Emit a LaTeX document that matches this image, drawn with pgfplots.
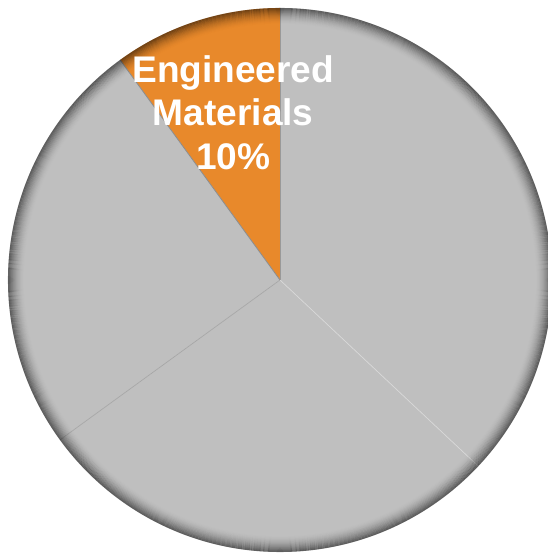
\documentclass[border=0pt]{standalone}
\usepackage{pgfplots}
\pgfplotsset{compat=1.18}
\usepackage{fontspec}
\setmainfont{Liberation Sans}
\definecolor{pieorange}{HTML}{E8892B}
\definecolor{piegray}{HTML}{BFBFBF}
\begin{document}
\begin{tikzpicture}
\begin{axis}[
  hide axis, scale only axis,
  width=411pt, height=414.75pt,
  xmin=-1.0294, xmax=0.9853, ymin=-1.0037, ymax=1.0294,
]
% shares (percent), counter-clockwise from 12 o'clock: 10, 25, 28, 37
% Engineered Materials 10%
\addplot[draw=none, fill=pieorange, domain=90:90+3.6*10, samples=80]
  ({cos(x)},{sin(x)}) -- (axis cs:0,0) -- cycle;
% 25%
\addplot[draw=none, fill=piegray, domain=126:126+3.6*25, samples=120]
  ({cos(x)},{sin(x)}) -- (axis cs:0,0) -- cycle;
% 28%
\addplot[draw=none, fill=piegray, domain=216:216+3.6*28, samples=120]
  ({cos(x)},{sin(x)}) -- (axis cs:0,0) -- cycle;
% 37%
\addplot[draw=none, fill=piegray, domain=316.8:316.8+3.6*37, samples=150]
  ({cos(x)},{sin(x)}) -- (axis cs:0,0) -- cycle;
% slice boundaries
\addplot[draw=black!40, line width=0.5pt] coordinates {(0,0) (0,1)};
\addplot[draw=black!45, line width=0.6pt] coordinates {(0,0) (-0.5878,0.8090)};
\addplot[draw=black!35, line width=0.5pt] coordinates {(0,0) (-0.8090,-0.5878)};
\addplot[draw=white!85!black, line width=0.5pt] coordinates {(0,0) (0.7290,-0.6845)};
% inner shadow rim
\pgfplotsinvokeforeach{0,...,15}{
  \draw[black, draw opacity={0.48*(1-#1/16)^1.8}, line width=0.8pt]
    (axis cs:0,0) circle[radius={1-0.0037*(#1+0.5)}];
}
\node[text=white, font=\bfseries\fontsize{27.8}{32.5}\selectfont, align=center, anchor=center]
  at (axis cs:-0.172,0.615) {Engineered\\Materials\\10\%};
\end{axis}
\pgfresetboundingbox
\path[use as bounding box] (current axis.south west) rectangle (current axis.north east);
\end{tikzpicture}
\end{document}
